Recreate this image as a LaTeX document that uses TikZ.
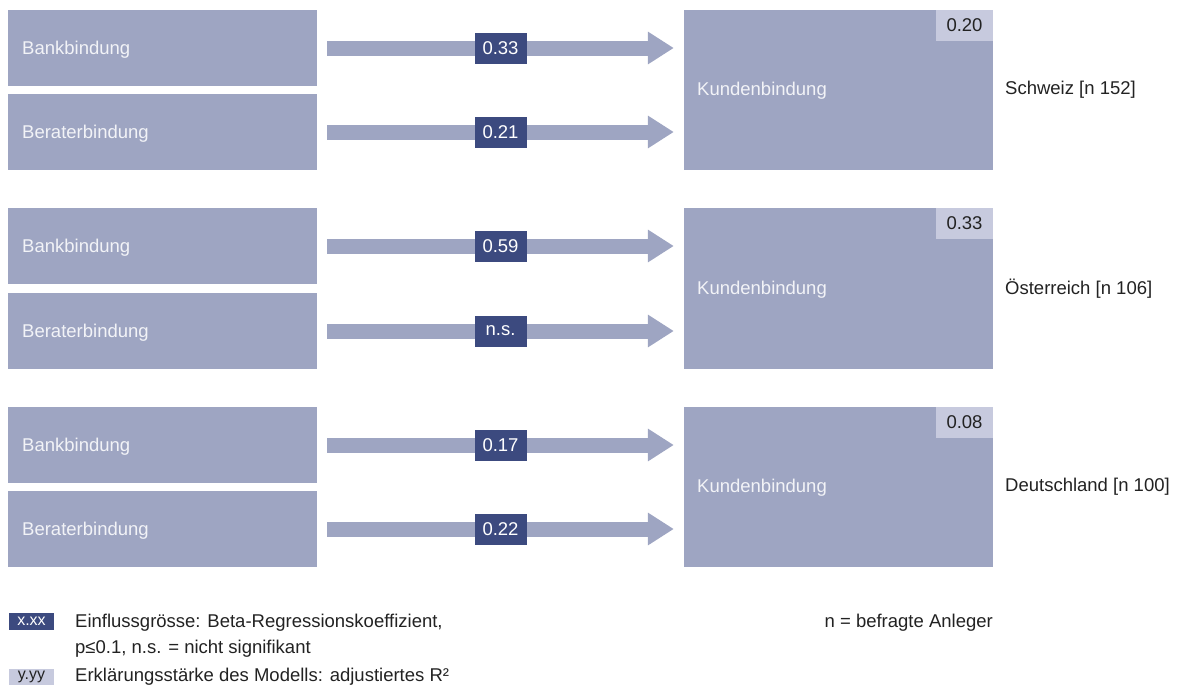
\documentclass[tikz,border=0pt]{standalone}
\usepackage{fontspec}
\setmainfont{Liberation Sans}
\usetikzlibrary{arrows.meta}
\definecolor{boxc}{HTML}{9EA5C2}
\definecolor{darkc}{HTML}{3C4A7F}
\definecolor{lightc}{HTML}{C7CADE}
\definecolor{txtc}{HTML}{222222}
\definecolor{boxtxt}{HTML}{F2F3F7}
\tikzset{
  inbox/.style={fill=boxc, draw=none, minimum width=309pt, minimum height=76pt, inner sep=0pt},
  kbox/.style={fill=boxc, draw=none, minimum width=309pt, inner sep=0pt},
  rbox/.style={fill=lightc, draw=none, minimum width=57pt, minimum height=31pt, inner sep=0pt, text=txtc, font=\fontsize{18.5}{21}\selectfont},
  coef/.style={fill=darkc, draw=none, minimum width=52pt, minimum height=31pt, inner sep=0pt, text=white, font=\fontsize{18.5}{21}\selectfont},
  arr/.style={draw=boxc, line width=15pt, -{Triangle[length=26pt,width=31pt]}},
  lab/.style={text=txtc, font=\fontsize{18.5}{21}\selectfont, inner sep=0pt},
}
\begin{document}
\begin{tikzpicture}[x=1pt,y=-1pt]
\useasboundingbox (0,0) rectangle (1179,686);
% groups
\foreach \g/\btop/\ctop/\rb/\rc/\r/\cn in {1/10/94/0.33/0.21/0.20/{Schweiz [n 152]},2/208/293/0.59/n.s./0.33/{Österreich [n 106]},3/407/491/0.17/0.22/0.08/{Deutschland [n 100]}}{
  \node[inbox] (bank\g) at (162.5,\btop+38) {};
  \node[lab, anchor=west, text=boxtxt] (bankt\g) at (22,\btop+40) {Bankbindung};
  \node[inbox] (ber\g) at (162.5,\ctop+38) {};
  \node[lab, anchor=west, text=boxtxt] (bert\g) at (22,\ctop+40) {Beraterbindung};
  \node[kbox, minimum height={\ctop+76-\btop}] (kund\g) at (838.5,{(\btop+\ctop+76)/2}) {};
  \node[lab, anchor=west, text=boxtxt] (kundt\g) at (697,{(\btop+\ctop+76)/2+1}) {Kundenbindung};
  \node[rbox, anchor=north east] (r\g) at (kund\g.north east) {\r};
  \node[lab, anchor=west] (cn\g) at (1005,{(\btop+\ctop+76)/2}) {\cn};
  \draw[arr] ([xshift=10pt]bank\g.east) -- ([xshift=-10pt]kund\g.west |- bank\g.east)
     node[coef, midway] (cb\g) {\rb};
  \draw[arr] ([xshift=10pt]ber\g.east) -- ([xshift=-10pt]kund\g.west |- ber\g.east)
     node[coef, midway] (cc\g) {\rc};
}
% legend
\node[fill=darkc, text=white, minimum width=45pt, minimum height=17pt, inner sep=0pt, font=\fontsize{16}{18}\selectfont] (lx) at (31.5,621.5) {x.xx};
\node[lab, anchor=west] (l1) at (75,623) {Einflussgrösse: Beta-Regressionskoeffizient,};
\node[lab, anchor=west] (l2) at (75,649) {p≤0.1, n.s. = nicht signifikant};
\node[fill=lightc, text=txtc, minimum width=45pt, minimum height=16pt, inner sep=0pt, font=\fontsize{16}{18}\selectfont] (ly) at (31.5,676.5) {y.yy};
\node[lab, anchor=west] (l3) at (75,677) {Erklärungsstärke des Modells: adjustiertes R²};
\node[lab, anchor=east] (nlab) at (993,623) {n = befragte Anleger};
\end{tikzpicture}
\end{document}
